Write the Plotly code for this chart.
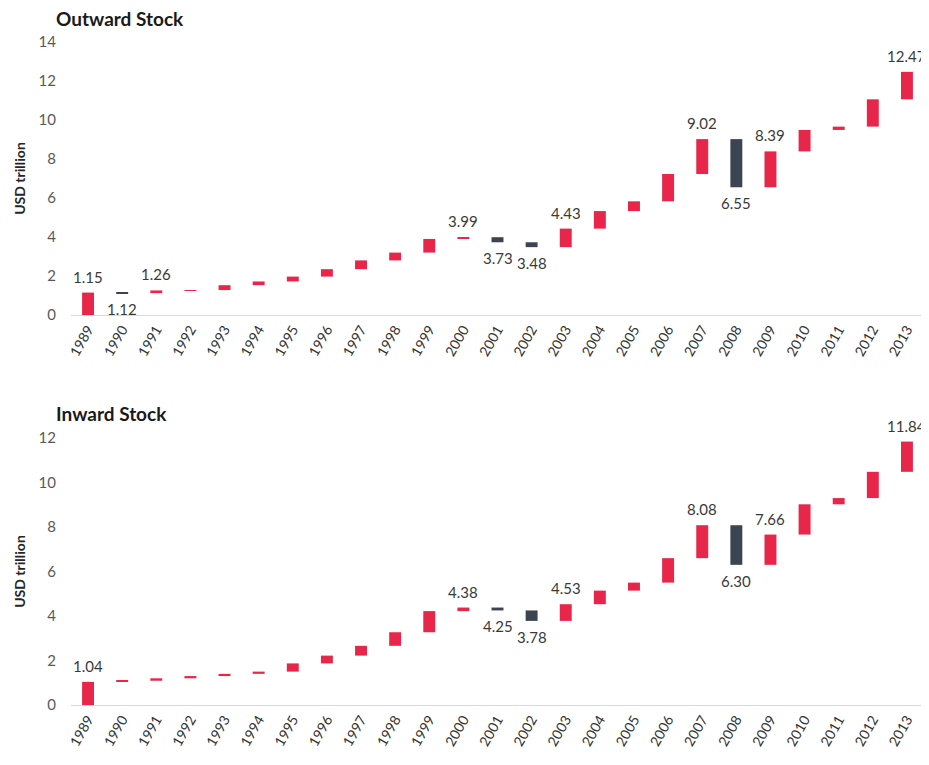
import plotly.graph_objects as go

years = [str(y) for y in range(1989, 2014)]

outward = [1.15, 1.12, 1.26, 1.28, 1.53, 1.72, 1.97, 2.35, 2.80, 3.20, 3.90, 3.99,
           3.73, 3.48, 4.43, 5.33, 5.83, 7.23, 9.02, 6.55, 8.39, 9.49, 9.66, 11.06, 12.47]
inward = [1.04, 1.09, 1.20, 1.30, 1.40, 1.50, 1.87, 2.22, 2.66, 3.27, 4.22, 4.38,
          4.25, 3.78, 4.53, 5.14, 5.50, 6.60, 8.08, 6.30, 7.66, 9.02, 9.30, 10.48, 11.84]

outward_labels = ["1989", "1990", "1991", "2000", "2001", "2002", "2003", "2007", "2008", "2009", "2013"]
inward_labels = ["1989", "2000", "2001", "2002", "2003", "2007", "2008", "2009", "2013"]

titles = ["Outward Stock", "Inward Stock"]
y_ranges = [[0, 14], [0, 12]]
y_ticks = [[0, 2, 4, 6, 8, 10, 12, 14], [0, 2, 4, 6, 8, 10, 12]]

RED = "#E8264A"
DARK = "#3B4450"
FONT = "Lato, 'Open Sans', sans-serif"

OFF = 8  # default page body margin
W, H = 929 - OFF, 765 - 2 * OFF
L, R = 71 - OFF, 5
PW = W - L - R

fig = go.Figure()

def py(px):
    return 1 - (px - OFF) / H

domains = [[py(315), py(42)], [py(705), py(438)]]

annotations = []
for k, (vals, labs) in enumerate([(outward, outward_labels), (inward, inward_labels)]):
    xa = "x" if k == 0 else "x2"
    ya = "y" if k == 0 else "y2"
    bases, deltas, colors = [], [], []
    prev = 0.0
    for v in vals:
        bases.append(prev)
        d = v - prev
        deltas.append(d)
        colors.append(RED if d >= 0 else DARK)
        prev = v
    fig.add_trace(go.Bar(x=years, y=deltas, base=bases, marker_color=colors,
                         marker_line_width=0, width=0.35, xaxis=xa, yaxis=ya,
                         showlegend=False, hoverinfo="skip"))
    for i, yr in enumerate(years):
        if yr in labs:
            up = deltas[i] >= 0
            annotations.append(dict(
                x=i, y=vals[i], xref=xa, yref=ya, text=f"{vals[i]:.2f}",
                showarrow=False, xanchor="center",
                yanchor="bottom" if up else "top", yshift=5 if up else -5,
                font=dict(family=FONT, size=15, color="#3a3a3a")))

axis_x = dict(type="category", tickangle=-60, showgrid=False, showline=True,
              linecolor="#d9d9d9", linewidth=1, ticks="", automargin=False,
              range=[-0.5, len(years) - 0.5],
              tickfont=dict(family=FONT, size=14, color="#333333"))
axis_y = dict(showgrid=False, zeroline=False, showline=False, ticks="", automargin=False,
              ticklabelstandoff=14,
              tickfont=dict(family=FONT, size=15, color="#595959"),
              title=dict(text="USD trillion",
                         font=dict(family=FONT, size=14, color="#262626", weight="bold"),
                         standoff=9))

for t, ypx in zip(titles, [18, 414]):
    annotations.append(dict(text=t, x=(54 - 71) / PW, y=py(ypx), xref="paper", yref="paper",
                            xanchor="left", yanchor="middle", showarrow=False,
                            font=dict(family=FONT, size=19, color="#1a1a1a", weight="bold")))

fig.update_layout(
    width=W, height=H,
    margin=dict(l=L, r=R, t=0, b=0, autoexpand=False),
    plot_bgcolor="white", paper_bgcolor="white",
    xaxis=dict(axis_x, domain=[0, 1], anchor="y"),
    xaxis2=dict(axis_x, domain=[0, 1], anchor="y2"),
    yaxis=dict(axis_y, domain=domains[0], range=y_ranges[0], tickvals=y_ticks[0], anchor="x"),
    yaxis2=dict(axis_y, domain=domains[1], range=y_ranges[1], tickvals=y_ticks[1], anchor="x2"),
    annotations=annotations,
)

fig.write_html("out.html")
